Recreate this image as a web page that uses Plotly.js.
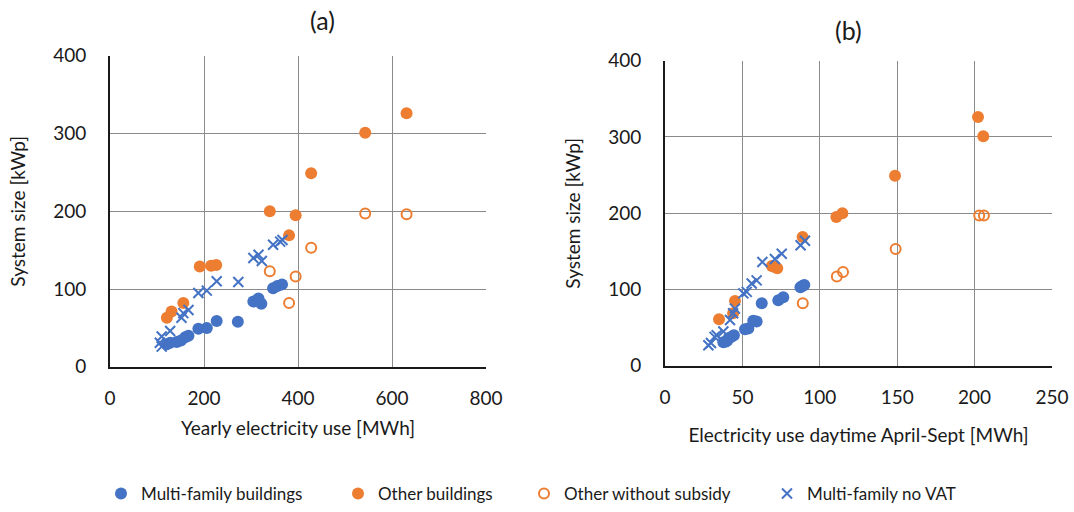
<!DOCTYPE html>
<html>
<head>
<meta charset="utf-8">
<script src="https://cdn.plot.ly/plotly-3.0.1.min.js"></script>
<style>html,body{margin:0;padding:0;background:#fff;}#chart{width:1074px;height:512px;}</style>
</head>
<body>
<div id="chart"></div>
<script>
// (a) Yearly electricity use [MWh] vs system size [kWp]
const mfYearly = [121,128,142,151,160,167,188,206,227,272,305,316,322,347,356,366];
const mfYearlySize = [29,31,32,34,38,40,49,50,59,58,84,88,81,101,104,106];
const otherYearly = [121,131,156,191,215,226,340,381,395,428,543,631];
const otherYearlySize = [63,71,82,129,130,131,200,169,195,249,301,326];
const noSubYearly = [340,381,395,428,543,631];
const noSubYearlySize = [123,82,116,153,197,196];
const noVatYearly = [106,110,110,128,152,156,167,188,206,227,273,305,316,323,347,362,367];
const noVatYearlySize = [31,26,39,46,63,69,73,95,98,110,109,140,144,136,157,161,163];

// (b) Electricity use daytime April-Sept [MWh] vs system size [kWp]
const mfDay = [37.7,39.5,40.5,41,43,44.5,51.7,53.8,57,59.2,62.5,73.2,76.4,87.5,89,90];
const mfDaySize = [31,32,34,36,38,40,48,49,59,58,82,86,90,103,105,106];
const otherDay = [34.9,44,45.2,69,70.5,72.5,88.9,110.7,114.6,148.6,205.6,202.2];
const otherDaySize = [61,69,85,131,130,128,169,195,200,249,301,326];
const noSubDay = [115,89,111,149,206,203];
const noSubDaySize = [123,82,117,153,197,197];
const noVatDay = [28,29.7,32,33.4,37.7,42,44,45.2,50.6,52.8,56,59.2,62.9,71,75.4,87.6,90.4];
const noVatDaySize = [27,30,38,40,45,60,69,75,95,97,108,112,136,140,147,158,164];

const seriesNames = ["Multi-family buildings","Other buildings","Other without subsidy","Multi-family no VAT"];
const panelTitles = ["(a)","(b)"];
const xTitles = ["Yearly electricity use [MWh]","Electricity use daytime April-Sept [MWh]"];
const yTitle = "System size [kWp]";

const BLUE = "#4472C4", ORANGE = "#ED7D31";
const FONT = "Lato, 'Open Sans', sans-serif";
const TXT = "#1a1a1a";

const styles = [
  {mode:"markers", marker:{color:BLUE, size:12, symbol:"circle"}},
  {mode:"markers", marker:{color:ORANGE, size:12, symbol:"circle"}},
  {mode:"markers", marker:{color:ORANGE, size:10, symbol:"circle-open", line:{color:ORANGE, width:2}}},
  {mode:"markers", marker:{color:BLUE, size:10, symbol:"x-thin-open", line:{color:BLUE, width:2}}}
];
const legendIds = ["legend","legend2","legend3","legend4"];

const left = [[mfYearly,mfYearlySize],[otherYearly,otherYearlySize],[noSubYearly,noSubYearlySize],[noVatYearly,noVatYearlySize]];
const right = [[mfDay,mfDaySize],[otherDay,otherDaySize],[noSubDay,noSubDaySize],[noVatDay,noVatDaySize]];

const traces = [];
left.forEach((d,i)=>{
  traces.push(Object.assign({type:"scatter", x:d[0], y:d[1], name:seriesNames[i], xaxis:"x", yaxis:"y", legend:legendIds[i], showlegend:true, cliponaxis:false}, JSON.parse(JSON.stringify(styles[i]))));
});
right.forEach((d,i)=>{
  traces.push(Object.assign({type:"scatter", x:d[0], y:d[1], name:seriesNames[i], xaxis:"x2", yaxis:"y2", showlegend:false, cliponaxis:false}, JSON.parse(JSON.stringify(styles[i]))));
});

const W = 1074, H = 512;
const px = v => v / W, py = v => 1 - v / H;

const axisCommon = {
  showgrid:true, gridcolor:"#8a8a8a", gridwidth:1,
  showline:true, linecolor:"#1a1a1a", linewidth:2,
  zeroline:false, ticks:"", fixedrange:true,
  tickfont:{family:FONT, size:19, color:TXT}
};

function legendAt(textStart){
  return {orientation:"h", x:px(textStart-42), xanchor:"left", y:py(497), yanchor:"middle",
          font:{family:FONT, size:17, color:TXT}, bgcolor:"rgba(0,0,0,0)", borderwidth:0, itemwidth:30};
}

const layout = {
  width:W, height:H,
  margin:{l:0, r:0, t:0, b:0},
  paper_bgcolor:"#fff", plot_bgcolor:"#fff",
  font:{family:FONT, color:TXT},
  xaxis: Object.assign({}, axisCommon, {domain:[px(110), px(486)], range:[0,800], dtick:200, anchor:"y",
    ticklabelstandoff:13,
    title:{text:xTitles[0], font:{family:FONT, size:19, color:TXT}, standoff:14}}),
  yaxis: Object.assign({}, axisCommon, {domain:[py(369), py(56)], range:[0,400], dtick:100, anchor:"x",
    ticklabelstandoff:18,
    title:{text:yTitle, font:{family:FONT, size:19, color:TXT}, standoff:22}}),
  xaxis2: Object.assign({}, axisCommon, {domain:[px(665), px(1052)], range:[0,250], dtick:50, anchor:"y2",
    ticklabelstandoff:13,
    title:{text:xTitles[1], font:{family:FONT, size:19, color:TXT}, standoff:22}}),
  yaxis2: Object.assign({}, axisCommon, {domain:[py(368), py(61)], range:[0,400], dtick:100, anchor:"x2",
    ticklabelstandoff:18,
    title:{text:yTitle, font:{family:FONT, size:19, color:TXT}, standoff:22}}),
  annotations:[
    {text:panelTitles[0], xref:"paper", yref:"paper", x:px(322), y:py(20), xanchor:"center", yanchor:"middle", showarrow:false, font:{family:FONT, size:25, color:TXT}},
    {text:panelTitles[1], xref:"paper", yref:"paper", x:px(848), y:py(30), xanchor:"center", yanchor:"middle", showarrow:false, font:{family:FONT, size:25, color:TXT}}
  ],
  legend: legendAt(143),
  legend2: legendAt(380),
  legend3: legendAt(566),
  legend4: legendAt(809),
  showlegend:true
};

Plotly.newPlot("chart", traces, layout, {displayModeBar:false, staticPlot:true});
</script>
</body>
</html>
